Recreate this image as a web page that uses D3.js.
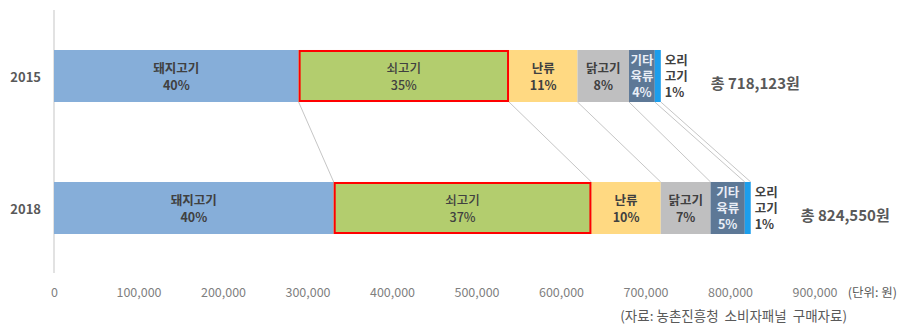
<!DOCTYPE html>
<html>
<head>
<meta charset="utf-8">
<script src="https://cdn.jsdelivr.net/npm/d3@7"></script>
<style>
body{margin:0;background:#fff;}
svg text{font-family:"Noto Sans CJK KR","Malgun Gothic",sans-serif;}
</style>
</head>
<body>
<div id="chart"></div>
<script>
// data ----------------------------------------------------------------
var years=['2015','2018'];
var categories=['돼지고기','쇠고기','난류','닭고기','기타육류','오리고기'];
var catLines=[['돼지고기'],['쇠고기'],['난류'],['닭고기'],['기타','육류'],['오리','고기']];
var values2015=[289500,249000,81000,61000,30500,7123];
var values2018=[331000,305000,82000,59000,40500,7050];
var pct2015=['40%','35%','11%','8%','4%','1%'];
var pct2018=['40%','37%','10%','7%','5%','1%'];
var totals=[718123,824550];
var xTicks=[0,100000,200000,300000,400000,500000,600000,700000,800000,900000];
var colors=['#86aed9','#b3cd6e','#ffd982','#bfbfc0','#5d7896','#1c9eec'];

//----------------------------------------------------------------
var width=900,height=327;

var svg=d3.select('#chart').append('svg')
    .attr('width',width)
    .attr('height',height);

var xScale=d3.scaleLinear()
    .domain([0,900000])
    .range([54,814.5]);

var yScale=d3.scaleBand()
    .domain(years)
    .range([10,274])
    .paddingInner(0.606)
    .paddingOuter(0.303);

var rows=[values2015,values2018].map(function(vals,r){
    var acc=0;
    return vals.map(function(v,i){
        var seg={year:years[r],cat:i,x0:acc,x1:acc+v,
                 pct:(r==0?pct2015:pct2018)[i]};
        acc+=v;
        return seg;
    });
});

// connector lines between the two bars
var bw=yScale.bandwidth();
svg.append('g').selectAll('line').data(rows[0])
    .enter().append('line')
    .attr('x1',function(d){return xScale(d.x1);})
    .attr('y1',yScale('2015')+bw)
    .attr('x2',function(d,i){return xScale(rows[1][i].x1);})
    .attr('y2',yScale('2018'))
    .style('stroke','#c6c6c6')
    .style('stroke-width',1);

// vertical axis line
svg.append('line')
    .attr('x1',54).attr('x2',54)
    .attr('y1',10).attr('y2',273)
    .style('stroke','#d9d9d9')
    .style('stroke-width',1.5);

// bars
var segs=d3.merge(rows);
svg.append('g').selectAll('rect').data(segs)
    .enter().append('rect')
    .attr('x',function(d){return xScale(d.x0);})
    .attr('y',function(d){return yScale(d.year);})
    .attr('width',function(d){return xScale(d.x1)-xScale(d.x0);})
    .attr('height',bw)
    .style('fill',function(d){return colors[d.cat];});

// red box on beef
svg.append('g').selectAll('rect').data(segs.filter(function(d){return d.cat==1;}))
    .enter().append('rect')
    .attr('x',function(d){return xScale(d.x0)+1;})
    .attr('y',function(d){return yScale(d.year)+1;})
    .attr('width',function(d){return xScale(d.x1)-xScale(d.x0)-2;})
    .attr('height',bw-2)
    .style('fill','none')
    .style('stroke','#ff0000')
    .style('stroke-width',2);

// segment labels
var lab=svg.append('g').selectAll('text').data(segs)
    .enter().append('text')
    .attr('text-anchor',function(d){return d.cat==5?'start':'middle';})
    .style('font-size','12.5px')
    .style('font-weight',function(d){return d.cat==1?'500':'bold';})
    .style('fill',function(d){return d.cat==4?'#e9eef6':'#404040';})
    .attr('transform',function(d){
        var x=d.cat==5?xScale(d.x1)+4:(xScale(d.x0)+xScale(d.x1))/2;
        return 'translate('+x+','+(yScale(d.year)+bw/2)+')';
    });
lab.each(function(d){
    var lines=catLines[d.cat].concat([d.pct]);
    var t=d3.select(this);
    var offs=lines.length==2?[-7,10]:[-15,1,17];
    lines.forEach(function(s,i){
        t.append('tspan')
            .attr('x',0)
            .attr('y',offs[i])
            .attr('dy','0.35em')
            .text(s);
    });
});

// totals
svg.append('g').selectAll('text').data(totals)
    .enter().append('text')
    .attr('x',function(d){return xScale(d)+50;})
    .attr('y',function(d,i){return yScale(years[i])+bw/2+13;})
    .style('font-size','15px')
    .style('font-weight','bold')
    .style('fill','#595959')
    .text(function(d){return '총 '+d3.format(',')(d)+'원';});

// year labels
svg.append('g').selectAll('text').data(years)
    .enter().append('text')
    .attr('x',41)
    .attr('y',function(d){return yScale(d)+bw/2+1;})
    .attr('dy','0.35em')
    .attr('text-anchor','end')
    .style('font-size','13px')
    .style('font-weight','bold')
    .style('fill','#595959')
    .text(function(d){return d;});

// x axis labels
var xAxis=d3.axisBottom(xScale)
    .tickValues(xTicks)
    .tickFormat(d3.format(','))
    .tickSize(0)
    .tickPadding(0);
var gx=svg.append('g')
    .attr('transform','translate(0,288)')
    .call(xAxis);
gx.select('.domain').remove();
gx.selectAll('text')
    .style('font-size','12.5px')
    .style('fill','#7f7f7f')
    .style('font-family','"Noto Sans CJK KR",sans-serif');

svg.append('text')
    .attr('x',897).attr('y',293)
    .attr('dy','0.35em')
    .attr('text-anchor','end')
    .style('font-size','12.5px')
    .style('fill','#595959')
    .text('(단위: 원)');

svg.append('text')
    .attr('x',847).attr('y',316)
    .attr('dy','0.35em')
    .attr('text-anchor','end')
    .style('font-size','13.5px')
    .style('fill','#595959')
    .style('white-space','pre')
    .text('(자료: 농촌진흥청  소비자패널  구매자료)');
</script>
</body>
</html>
